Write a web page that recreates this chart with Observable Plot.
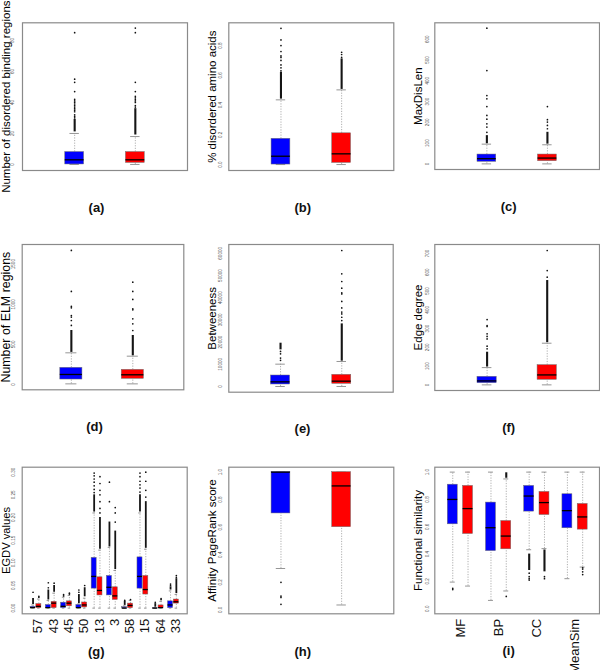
<!DOCTYPE html>
<html>
<head>
<meta charset="utf-8">
<script src="https://cdn.jsdelivr.net/npm/d3@7"></script>
<script src="https://cdn.jsdelivr.net/npm/@observablehq/plot@0.6"></script>
<style>
  html, body { margin: 0; padding: 0; background: #fff; }
  #fig { position: relative; width: 600px; height: 670px; overflow: hidden; font-family: "Liberation Sans", Arial, sans-serif; }
</style>
</head>
<body>
<div id="fig"></div>
<script>
// ---------- DATA (box statistics) ----------
// each row: lo whisker, q1, median, q3, hi whisker, dense outlier run [from,to], single outliers
const seriesColors = { blue: "#0000ff", red: "#ff0000" };

const panelA = [
  { series: "blue", lo: 0, q1: 0, med: 3, q3: 8, hi: 20, dense: [21, 29], out: [30, 31, 32, 34, 35, 36, 37, 38, 39, 40, 41, 42, 47, 53, 55, 85] },
  { series: "red",  lo: 0, q1: 1, med: 3, q3: 8, hi: 18, dense: [19, 36], out: [37, 38, 40, 41, 42, 43, 44, 47, 53, 85, 88] }
];
const panelB = [
  { series: "blue", lo: 0, q1: 0, med: 0.056, q3: 0.173, hi: 0.435, dense: [0.44, 0.62], out: [0.63, 0.65, 0.67, 0.70, 0.72, 0.73, 0.76, 0.80, 0.838, 0.916] },
  { series: "red",  lo: 0, q1: 0.011, med: 0.072, q3: 0.21, hi: 0.502, dense: [0.505, 0.71], out: [0.72, 0.74, 0.755] }
];
const panelC = [
  { series: "blue", lo: 0, q1: 10, med: 25, q3: 45, hi: 95, dense: [97, 136], out: [152, 177, 193, 215, 233, 276, 313, 329, 449, 653] },
  { series: "red",  lo: 0, q1: 13, med: 28, q3: 45, hi: 92, dense: [95, 152], out: [169, 185, 201, 213, 276] }
];
const panelD = [
  { series: "blue", lo: 8, q1: 62, med: 125, q3: 208, hi: 395, dense: [400, 673], out: [736, 798, 840, 860, 956, 973, 1160, 1671] },
  { series: "red",  lo: 8, q1: 71, med: 121, q3: 183, hi: 353, dense: [358, 611], out: [673, 756, 819, 931, 943, 1060, 1160, 1276] }
];
const panelE = [
  { series: "blue", lo: 0, q1: 900, med: 2100, q3: 4950, hi: 10060, dense: [16500, 19500], out: [11800, 12800, 14700, 15800] },
  { series: "red",  lo: 0, q1: 1200, med: 2400, q3: 5255, hi: 11260, dense: [11400, 28200], out: [29700, 31200, 32700, 33500, 35400, 38300, 41700, 42200, 44300, 47300, 50750, 61260] }
];
const panelF = [
  { series: "blue", lo: 0, q1: 9, med: 21, q3: 43, hi: 92, dense: [95, 174], out: [192, 206, 245, 258, 272, 311, 316, 348] },
  { series: "red",  lo: 0, q1: 27, med: 53, q3: 105, hi: 222, dense: [225, 556], out: [574, 609, 716] }
];
const groupsG = ["57", "43", "45", "50", "13", "3", "58", "15", "64", "33"];
const panelG = [
  { group: "57", series: "blue", lo: 0, q1: 0, med: 0.001, q3: 0.003, hi: 0.007, dense: [0.008, 0.021], out: [0.035] },
  { group: "57", series: "red",  lo: 0, q1: 0, med: 0.004, q3: 0.009, hi: 0.020, out: [0.024, 0.026] },
  { group: "43", series: "blue", lo: 0, q1: 0, med: 0.001, q3: 0.007, hi: 0.017, dense: [0.018, 0.040], out: [0.045, 0.056] },
  { group: "43", series: "red",  lo: 0, q1: 0, med: 0.011, q3: 0.014, hi: 0.033, dense: [0.035, 0.050], out: [0.055] },
  { group: "45", series: "blue", lo: 0, q1: 0, med: 0.004, q3: 0.012, hi: 0.024, out: [0.027, 0.030] },
  { group: "45", series: "red",  lo: 0, q1: 0.004, med: 0.011, q3: 0.015, hi: 0.028, out: [0.031, 0.033] },
  { group: "50", series: "blue", lo: 0, q1: 0, med: 0.001, q3: 0.007, hi: 0.009, dense: [0.010, 0.030], out: [0.035, 0.040] },
  { group: "50", series: "red",  lo: 0, q1: 0.0015, med: 0.007, q3: 0.0125, hi: 0.022, dense: [0.025, 0.045], out: [0.050] },
  { group: "13", series: "blue", lo: 0, q1: 0.043, med: 0.070, q3: 0.111, hi: 0.210, dense: [0.212, 0.250], out: [0.255, 0.262, 0.270, 0.278, 0.285, 0.292, 0.298] },
  { group: "13", series: "red",  lo: 0, q1: 0.028, med: 0.039, q3: 0.068, hi: 0.128, dense: [0.130, 0.200], out: [0.210, 0.220, 0.235, 0.250, 0.260, 0.275, 0.290] },
  { group: "3",  series: "blue", lo: 0, q1: 0.028, med: 0.046, q3: 0.071, hi: 0.134, dense: [0.135, 0.190], out: [0.235, 0.278] },
  { group: "3",  series: "red",  lo: 0, q1: 0.018, med: 0.027, q3: 0.046, hi: 0.083, dense: [0.085, 0.170], out: [0.190, 0.210, 0.222] },
  { group: "58", series: "blue", lo: 0, q1: 0, med: 0, q3: 0.002, hi: 0.005, dense: [0.006, 0.015], out: [0.017] },
  { group: "58", series: "red",  lo: 0, q1: 0, med: 0.006, q3: 0.010, hi: 0.017, out: [0.019] },
  { group: "15", series: "blue", lo: 0, q1: 0.043, med: 0.070, q3: 0.112, hi: 0.210, dense: [0.212, 0.250], out: [0.256, 0.265, 0.272, 0.280, 0.290, 0.298] },
  { group: "15", series: "red",  lo: 0, q1: 0.030, med: 0.041, q3: 0.071, hi: 0.130, dense: [0.132, 0.235], out: [0.245, 0.260, 0.280, 0.300] },
  { group: "64", series: "blue", lo: 0, q1: 0, med: 0, q3: 0.0005, hi: 0.001, dense: [0.002, 0.010], out: [0.013] },
  { group: "64", series: "red",  lo: 0, q1: 0, med: 0.001, q3: 0.006, hi: 0.015, out: [0.019, 0.021] },
  { group: "33", series: "blue", lo: 0, q1: 0, med: 0.007, q3: 0.015, hi: 0.038, dense: [0.040, 0.047], out: [0.050, 0.053] },
  { group: "33", series: "red",  lo: 0, q1: 0.010, med: 0.014, q3: 0.019, hi: 0.030, dense: [0.032, 0.065], out: [0.068, 0.072] }
];
const panelH = [
  { series: "blue", lo: 0.30, q1: 0.70, med: 1.0, q3: 1.0, hi: 1.0, out: [0.20, 0.10, 0.09, 0.04] },
  { series: "red",  lo: 0.035, q1: 0.60, med: 0.90, q3: 1.0, hi: 1.0, out: [] }
];
const groupsI = ["MF", "BP", "CC", "MeanSim"];
const panelI = [
  { group: "MF", series: "blue", lo: 0.195, q1: 0.618, med: 0.800, q3: 0.908, hi: 1.0, out: [0.14, 0.15] },
  { group: "MF", series: "red",  lo: 0.166, q1: 0.547, med: 0.733, q3: 0.899, hi: 1.0, out: [] },
  { group: "BP", series: "blue", lo: 0.061, q1: 0.422, med: 0.593, q3: 0.777, hi: 1.0, out: [] },
  { group: "BP", series: "red",  lo: 0.130, q1: 0.435, med: 0.532, q3: 0.642, hi: 0.95, dense: [0.955, 0.995], out: [0.09] },
  { group: "CC", series: "blue", lo: 0.432, q1: 0.711, med: 0.825, q3: 0.899, hi: 1.0, dense: [0.28, 0.40], out: [0.21, 0.22, 0.235, 0.26] },
  { group: "CC", series: "red",  lo: 0.440, q1: 0.686, med: 0.777, q3: 0.855, hi: 1.0, dense: [0.27, 0.43], out: [0.22, 0.235] },
  { group: "MeanSim", series: "blue", lo: 0.22, q1: 0.589, med: 0.718, q3: 0.838, hi: 1.0, out: [] },
  { group: "MeanSim", series: "red",  lo: 0.305, q1: 0.579, med: 0.672, q3: 0.767, hi: 1.0, out: [0.25, 0.27, 0.29, 0.30] }
];

const ticksA = [0, 20, 40, 60, 80];
const ticksB = [0, 0.2, 0.4, 0.6, 0.8];
const ticksC = [0, 100, 200, 300, 400, 500, 600];
const ticksD = [0, 500, 1000, 1500];
const ticksE = [0, 10000, 20000, 30000, 40000, 50000, 60000];
const ticksF = [0, 100, 200, 300, 400, 500, 600, 700];
const ticksG = [0, 0.05, 0.10, 0.15, 0.20, 0.25, 0.30];
const ticksH = [0, 0.2, 0.4, 0.6, 0.8, 1.0];
const ticksI = [0, 0.2, 0.4, 0.6, 0.8, 1.0];

// ---------- DRAWING ----------
const fig = document.getElementById("fig");
const FONT = "'Liberation Sans', Arial, Helvetica, sans-serif";

function panel(cfg) {
  const { rows, groups, pairOff = 0.19, boxW, xDomain, yDomain, ticks, fmt, ylabel, caption, cell, frame } = cfg;
  const pos = (d) => groups
    ? groups.indexOf(d.group) + (d.series === "blue" ? -pairOff : pairOff)
    : rows.indexOf(d) + 1;
  const half = boxW / 2, cap = boxW / 4;
  const outRows = rows.flatMap((d) => (d.out || []).map((v) => ({ p: pos(d), v })));
  const denseRows = rows.filter((d) => d.dense).map((d) => ({ p: pos(d), a: d.dense[0], b: d.dense[1] }));
  const yMid = (yDomain[0] + yDomain[1]) / 2;
  const marks = [
    Plot.ruleX(rows, { x: pos, y1: "lo", y2: "q1", stroke: "#9a9a9a", strokeWidth: 0.8, strokeDasharray: "1.2,1.4" }),
    Plot.ruleX(rows, { x: pos, y1: "q3", y2: "hi", stroke: "#9a9a9a", strokeWidth: 0.8, strokeDasharray: "1.2,1.4" }),
    Plot.ruleY(rows, { y: "hi", x1: (d) => pos(d) - cap, x2: (d) => pos(d) + cap, stroke: "#8a8a8a", strokeWidth: 0.9 }),
    Plot.ruleY(rows, { y: "lo", x1: (d) => pos(d) - cap, x2: (d) => pos(d) + cap, stroke: "#8a8a8a", strokeWidth: 0.9 }),
    Plot.ruleX(denseRows, { x: "p", y1: "a", y2: "b", stroke: "#151515", strokeWidth: cfg.denseW || 2.1 }),
    Plot.dot(outRows, { x: "p", y: "v", r: 0.85, fill: "#111", stroke: "none" }),
    Plot.rect(rows, { x1: (d) => pos(d) - half, x2: (d) => pos(d) + half, y1: "q1", y2: "q3",
      fill: (d) => seriesColors[d.series], stroke: "#6f6f6f", strokeWidth: 0.5 }),
    Plot.ruleY(rows, { y: "med", x1: (d) => pos(d) - half, x2: (d) => pos(d) + half, stroke: "#000", strokeWidth: 1.3 }),
    Plot.frame({ stroke: "#8a8a8a", strokeWidth: 1.2 }),
    Plot.text(ticks, { y: (d) => d, text: (d) => fmt(d), frameAnchor: "left", textAnchor: "middle", lineAnchor: "middle",
      rotate: -90, dx: cfg.tickDx || -8.5, fontSize: 4.6, fill: "#555" }),
    Plot.text([ylabel], { y: () => yMid, text: (d) => d, frameAnchor: "left", textAnchor: "middle", lineAnchor: "middle",
      rotate: -90, dx: -16, fontSize: cfg.labelSize || 11.5, fill: "#000" }),
    Plot.text([caption], { text: (d) => d, frameAnchor: "bottom", textAnchor: "middle", lineAnchor: "middle", dx: -8.5, dy: cfg.capDy || 37,
      fontSize: 13, fontWeight: "bold", fill: "#111" })
  ];
  if (groups) {
    marks.push(Plot.text(groups, { x: (d, i) => i + (cfg.labelOff || 0), text: (d) => d, frameAnchor: "bottom",
      textAnchor: "end", lineAnchor: "middle", rotate: -90, dy: 5, fontSize: 13, fill: "#111" }));
  }
  const svg = Plot.plot({
    width: cell.w, height: cell.h,
    marginLeft: frame.l - cell.x, marginRight: cell.x + cell.w - frame.r,
    marginTop: frame.t - cell.y, marginBottom: cell.y + cell.h - frame.b,
    x: { domain: xDomain, axis: null },
    y: { domain: yDomain, axis: null },
    style: { background: "transparent", overflow: "visible", fontFamily: FONT },
    marks
  });
  svg.style.position = "absolute";
  svg.style.left = cell.x + "px";
  svg.style.top = cell.y + "px";
  fig.appendChild(svg);
}

const f0 = (d) => String(d);
const f1 = (d) => d.toFixed(1);
const f2 = (d) => d.toFixed(2);
const two = [0.14, 2.86];

panel({ rows: panelA, boxW: 0.31, xDomain: two, yDomain: [-3.9, 91.4], ticks: ticksA, fmt: f0, tickDx: -10,
  ylabel: "Number of disordered binding regions", caption: "(a)",
  cell: { x: 0, y: 0, w: 200, h: 220 }, frame: { l: 22, r: 187, t: 22.3, b: 170 } });
panel({ rows: panelB, boxW: 0.31, xDomain: two, yDomain: [-0.04, 0.953], ticks: ticksB, fmt: f1,
  ylabel: "% disordered amino acids", caption: "(b)",
  cell: { x: 200, y: 0, w: 200, h: 220 }, frame: { l: 228.3, r: 393.3, t: 22.3, b: 170 } });
panel({ rows: panelC, boxW: 0.31, xDomain: two, yDomain: [-27, 679], ticks: ticksC, fmt: f0, tickDx: -7.6,
  ylabel: "MaxDisLen", caption: "(c)",
  cell: { x: 400, y: 0, w: 200, h: 220 }, frame: { l: 434.3, r: 599, t: 22.3, b: 169 } });
panel({ rows: panelD, boxW: 0.36, xDomain: [0.2, 2.83], yDomain: [-66, 1745], ticks: ticksD, fmt: f0, tickDx: -9, labelSize: 12.4,
  ylabel: "Number of ELM regions", caption: "(d)",
  cell: { x: 0, y: 220, w: 200, h: 220 }, frame: { l: 21.7, r: 183.3, t: 244, b: 389.3 } });
panel({ rows: panelE, boxW: 0.31, xDomain: [0.155, 2.84], yDomain: [-2570, 63960], ticks: ticksE, fmt: f0,
  ylabel: "Betweeness", caption: "(e)",
  cell: { x: 200, y: 220, w: 200, h: 220 }, frame: { l: 228.3, r: 392.7, t: 244, b: 391.7 } });
panel({ rows: panelF, boxW: 0.32, xDomain: [0.13, 2.87], yDomain: [-30, 748], ticks: ticksF, fmt: f0, tickDx: -7.6,
  ylabel: "Edge degree", caption: "(f)",
  cell: { x: 400, y: 220, w: 200, h: 220 }, frame: { l: 434.3, r: 599, t: 244, b: 390 } });
panel({ rows: panelG, groups: groupsG, pairOff: 0.19, labelOff: 0.15, boxW: 0.33, xDomain: [-0.9, 9.9],
  yDomain: [-0.0125, 0.311], ticks: ticksG, fmt: f2, tickDx: -9, denseW: 1.8, capDy: 38.4, labelSize: 11.2,
  ylabel: "EGDV values", caption: "(g)",
  cell: { x: 0, y: 440, w: 200, h: 230 }, frame: { l: 21.7, r: 186.7, t: 466.7, b: 613.3 } });
panel({ rows: panelH, boxW: 0.31, xDomain: two, yDomain: [-0.029, 1.036], ticks: ticksH, fmt: f1, capDy: 38.4,
  ylabel: "Affinity PageRank score", caption: "(h)",
  cell: { x: 200, y: 440, w: 200, h: 230 }, frame: { l: 228.3, r: 393.3, t: 466.7, b: 613.3 } });
panel({ rows: panelI, groups: groupsI, pairOff: 0.2, labelOff: 0, boxW: 0.26, xDomain: [-0.67, 3.64],
  yDomain: [-0.037, 1.036], ticks: ticksI, fmt: f1, tickDx: -7, capDy: 37,
  ylabel: "Functional similarity", caption: "(i)",
  cell: { x: 400, y: 440, w: 200, h: 230 }, frame: { l: 434.3, r: 599, t: 466.7, b: 613.3 } });
</script>
</body>
</html>
